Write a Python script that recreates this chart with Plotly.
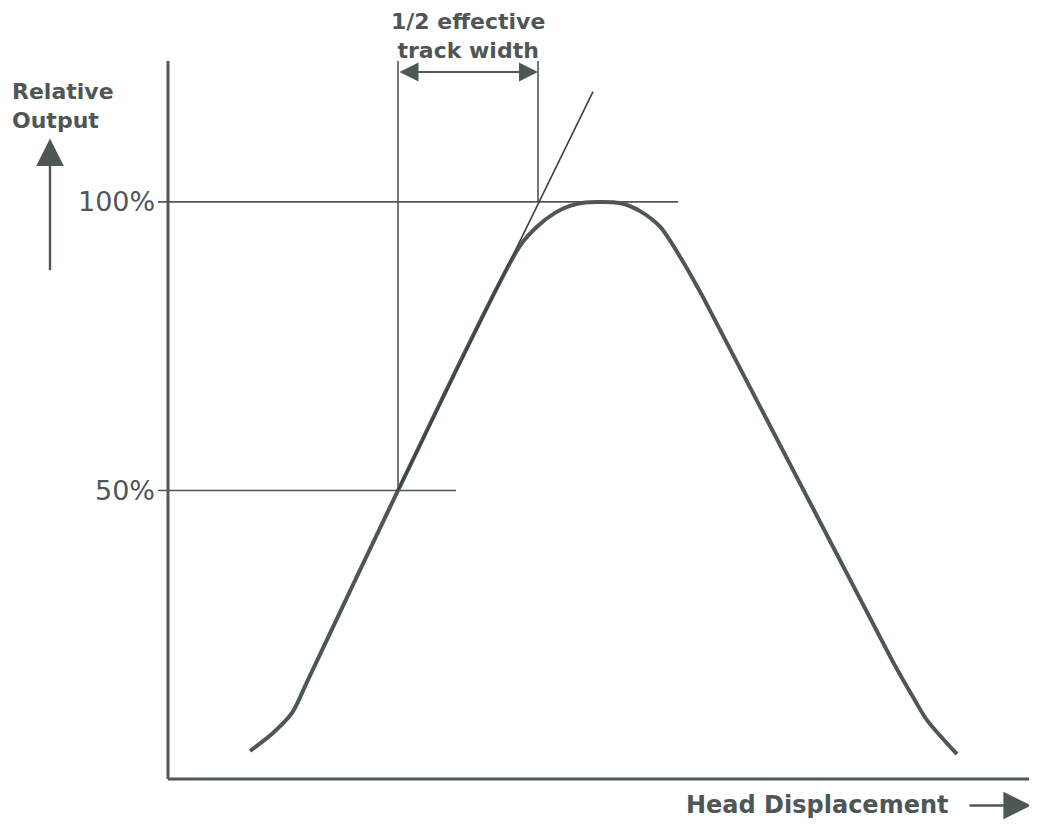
import plotly.graph_objects as go

# Response curve: head displacement (arbitrary units) vs relative output (%)
disp = [8.2, 10.5, 12.4, 14.0, 23.0, 35.2, 36.9, 38.7, 40.2, 41.7, 43.2, 45.2, 47.2,
        49.2, 51.2, 53.5, 72.4, 74.5, 75.9, 78.9]
output = [4.85, 7.97, 11.44, 17.16, 50.0, 92.4, 95.7, 98.1, 99.3, 99.9, 100.0, 99.8, 98.4,
          95.7, 90.5, 83.5, 20.6, 14.2, 10.2, 4.3]

# Reference levels and construction
level_vals = [100, 50]
level_labels = ["100%", "50%"]
level_ends = [51.0, 28.8]
half_point = [23.0, 50.0]        # 50% crossing
tangent_top = [42.5, 119.1]      # end of the tangent line
top_point_x = 37.0               # where tangent meets 100%
axis_top = 124.4
x_end = 86.9
arrow_y = 122.5

INK = "#4f5656"
FONT = "DejaVu Sans"

fig = go.Figure()
fig.add_trace(go.Scatter(x=disp, y=output, mode="lines",
                         line=dict(color=INK, width=4, shape="spline", smoothing=0.8),
                         hoverinfo="skip", showlegend=False))

shapes = []
# axes
shapes.append(dict(type="line", x0=0, x1=0, y0=0, y1=axis_top, line=dict(color=INK, width=3)))
shapes.append(dict(type="line", x0=0, x1=x_end, y0=0, y1=0, line=dict(color=INK, width=3)))
# level lines
for v, e in zip(level_vals, level_ends):
    shapes.append(dict(type="line", x0=-1.0, x1=e, y0=v, y1=v, line=dict(color=INK, width=1.6)))
# verticals
shapes.append(dict(type="line", x0=half_point[0], x1=half_point[0], y0=half_point[1], y1=axis_top,
                   line=dict(color=INK, width=1.6)))
shapes.append(dict(type="line", x0=top_point_x, x1=top_point_x, y0=100, y1=axis_top,
                   line=dict(color=INK, width=1.6)))
# tangent
shapes.append(dict(type="line", x0=half_point[0], y0=half_point[1], x1=tangent_top[0], y1=tangent_top[1],
                   line=dict(color="#3a4040", width=1.6)))

annotations = []
# double arrow
annotations.append(dict(x=top_point_x, y=arrow_y, ax=half_point[0], ay=arrow_y, axref="x", ayref="y",
                        xref="x", yref="y", text="", showarrow=True, arrowside="end+start",
                        arrowhead=2, arrowsize=1.9, arrowwidth=2.0, arrowcolor=INK,
                        standoff=0, startstandoff=0))
annotations.append(dict(x=30.0, y=128.7, xref="x", yref="y",
                        text="<b>1/2 effective</b><br><b>track width</b>",
                        showarrow=False, font=dict(family=FONT, size=22, color=INK), align="center"))
annotations.append(dict(x=-15.8, y=116.6, xref="x", yref="y",
                        text="<b>Relative</b><br><b>Output</b>",
                        showarrow=False, xanchor="left", align="left",
                        font=dict(family=FONT, size=22, color=INK)))
# up arrow
annotations.append(dict(x=-11.8, y=111.0, ax=-11.8, ay=87.9, axref="x", ayref="y", xref="x", yref="y",
                        text="", showarrow=True, arrowhead=2, arrowsize=2.3, arrowwidth=2.4,
                        arrowcolor=INK, standoff=0))
for v, lab in zip(level_vals, level_labels):
    annotations.append(dict(x=-1.1, y=v, xref="x", yref="y", text=lab, showarrow=False,
                            xanchor="right", font=dict(family=FONT, size=27, color=INK)))
annotations.append(dict(x=78.2, y=-4.5, xref="x", yref="y", text="<b>Head Displacement</b>",
                        showarrow=False, xanchor="right",
                        font=dict(family=FONT, size=24, color=INK)))
annotations.append(dict(x=86.3, y=-4.6, ax=80.0, ay=-4.6, axref="x", ayref="y", xref="x", yref="y",
                        text="", showarrow=True, arrowhead=2, arrowsize=2.3, arrowwidth=2.4,
                        arrowcolor=INK, standoff=0))

# Page body has an 8px margin; the figure fills the remaining window area.
fig.update_layout(
    width=1029, height=816,
    margin=dict(l=0, r=0, t=0, b=0),
    paper_bgcolor="white", plot_bgcolor="white",
    xaxis=dict(range=[-16.0, 86.9], visible=False, fixedrange=True),
    yaxis=dict(range=[-7.8, 133.6], visible=False, fixedrange=True),
    shapes=shapes, annotations=annotations, showlegend=False,
)

fig.write_html("out.html")
